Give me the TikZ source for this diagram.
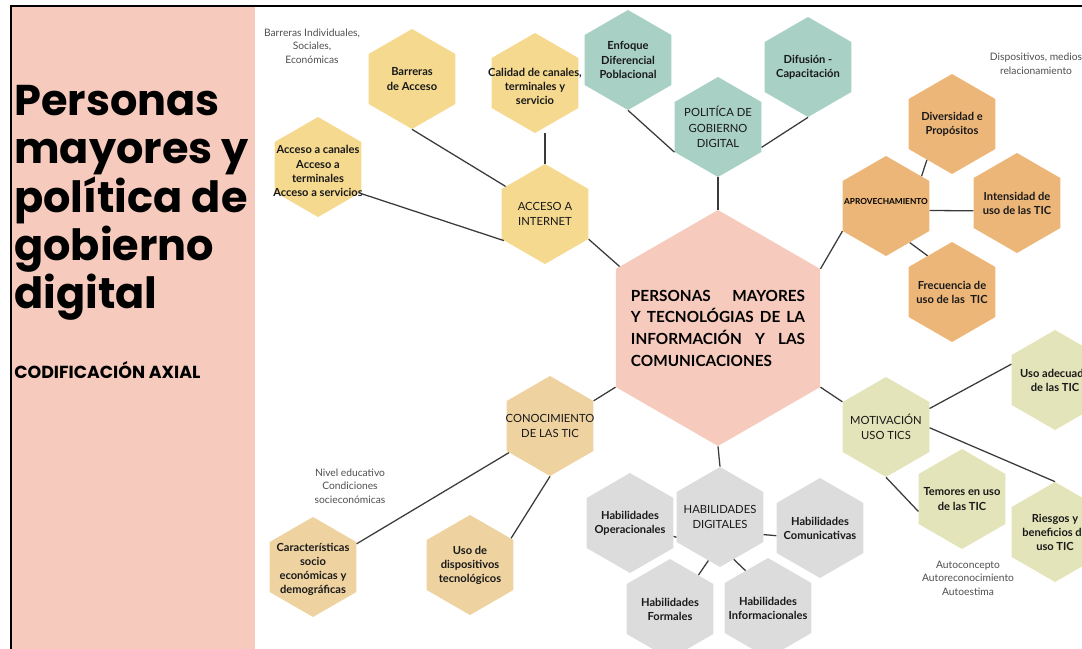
\documentclass[tikz,border=0pt]{standalone}
\usepackage{fontspec}
\setmainfont{Lato}
\newfontfamily\titlefont{Poppins}
\usetikzlibrary{shapes.geometric}

\definecolor{panelpink}{HTML}{F6CBBD}
\definecolor{hexyellow}{HTML}{F4D98E}
\definecolor{hexteal}{HTML}{A8D0C4}
\definecolor{hexorange}{HTML}{EDB679}
\definecolor{hexgreen}{HTML}{E3E4B9}
\definecolor{hexgray}{HTML}{DCDCDC}
\definecolor{hextan}{HTML}{EED3A1}
\definecolor{notegray}{HTML}{4E4E4E}
\definecolor{linkgray}{HTML}{3A3A3A}

\begin{document}
\begin{tikzpicture}[x=0.025cm, y=-0.025cm,
    hexa/.style={regular polygon, regular polygon sides=6, shape border rotate=90,
      minimum size=2.5cm, inner sep=0pt, draw=none},
    yel/.style={hexa, fill=hexyellow},
    teal/.style={hexa, fill=hexteal},
    ora/.style={hexa, fill=hexorange},
    gre/.style={hexa, fill=hexgreen},
    gry/.style={hexa, fill=hexgray},
    tan/.style={hexa, fill=hextan},
    leaf/.style={font=\fontsize{7.9}{10}\selectfont\bfseries, align=center, text=black!90},
    head/.style={font=\fontsize{8}{11}\selectfont, align=center, text=black!90},
    note/.style={font=\fontsize{7.3}{9.7}\selectfont, align=center, text=notegray},
    link/.style={draw=linkgray, line width=0.9pt}]
  \useasboundingbox (0,0) rectangle (1082,649);
  \clip (0,0) rectangle (1082,649);

  % left panel
  \fill[panelpink] (12,7) rectangle (255,649);
  \draw[line width=1.1pt] (11,649) -- (11,6) -- (1082,6);
  \node[anchor=north west, inner sep=0pt, align=left,
    font=\titlefont\fontsize{30.6}{34.4}\selectfont\bfseries] (title) at (14,85)
    {Personas\\mayores y\\política de\\gobierno\\digital};
  \node[anchor=base west, inner sep=0pt,
    font=\titlefont\fontsize{12.4}{14}\selectfont\bfseries] (sub) at (14,378)
    {CODIFICACIÓN AXIAL};

  % centre
  \node[hexa, minimum size=5.9cm, fill=panelpink,
    label={[align=left, font=\fontsize{10.9}{15.4}\selectfont\bfseries]center:{%
      \makebox[4.35cm][s]{PERSONAS MAYORES}\\
      \makebox[4.35cm][s]{Y TECNOLÓGIAS DE LA}\\
      \makebox[4.35cm][s]{INFORMACIÓN Y LAS}\\
      \makebox[4.35cm][l]{COMUNICACIONES}}}] (cen) at (718,328) {};

  \path
    (545,214) node[yel, label={[head]center:{ACCESO A\\INTERNET}}] (acc) {}
    (412,79) node[yel, label={[leaf]center:{Barreras\\de Acceso}}] (bar) {}
    (535,83) node[yel, label={[leaf, yshift=-0.08cm]center:{Calidad de canales,\\terminales y\\servicio}}] (cal) {}
    (318,167) node[yel, label={[leaf, yshift=-0.1cm]center:{Acceso a canales\\Acceso a\\terminales\\Acceso a servicios}}] (can) {}
    (718,127) node[teal, label={[head]center:{POLITÍCA DE\\GOBIERNO\\DIGITAL}}] (pol) {}
    (628,60) node[teal, label={[leaf]center:{Enfoque\\Diferencial\\Poblacional}}] (enf) {}
    (808,67) node[teal, label={[leaf]center:{Difusión -\\Capacitación}}] (dif) {}
    (886,206) node[ora, label={[yshift=0.1cm, font=\fontsize{5.9}{7}\selectfont\bfseries]center:APROVECHAMIENTO}] (apr) {}
    (952,124) node[ora, label={[leaf]center:{Diversidad e\\Propósitos}}] (div) {}
    (1017,203) node[ora, label={[leaf]center:{Intensidad de\\uso de las TIC}}] (int) {}
    (952,292) node[ora, label={[leaf]center:{Frecuencia de\\uso de las\ \ TIC}}] (fre) {}
    (886,427) node[gre, label={[head]center:{MOTIVACIÓN\\USO TICS}}] (mot) {}
    (1055,380) node[gre, label={[leaf]center:{Uso adecuado\\de las TIC}}] (uso) {}
    (962,499) node[gre, label={[leaf]center:{Temores en uso\\de las TIC}}] (tem) {}
    (1055,532) node[gre, label={[leaf]center:{Riesgos y\\beneficios de\\uso TIC}}] (rie) {}
    (720,517) node[gry, label={[head]center:{HABILIDADES\\DIGITALES}}] (hd) {}
    (630,523) node[gry, label={[leaf]center:{Habilidades\\Operacionales}}] (ope) {}
    (820,528) node[gry, label={[leaf]center:{Habilidades\\Comunicativas}}] (com) {}
    (670,609) node[gry, label={[leaf]center:{Habilidades\\Formales}}] (for) {}
    (768,608) node[gry, label={[leaf]center:{Habilidades\\Informacionales}}] (inf) {}
    (550,426) node[tan, label={[head]center:{CONOCIMIENTO\\DE LAS TIC}}] (con) {}
    (313,567) node[tan, label={[leaf, yshift=-0.05cm]center:{Características\\socio\\económicas y\\demográficas}}] (car) {}
    (470,565) node[tan, label={[leaf]center:{Uso de\\dispositivos\\tecnológicos}}] (dis) {};

  % notes
  \path
    (312,46) node[note] (n1) {Barreras Individuales,\\Sociales,\\Económicas}
    (1036,64) node[note] (n2) {Dispositivos, medios\\relacionamiento}
    (350,486) node[note] (n3) {Nivel educativo\\Condiciones\\socieconómicas}
    (968,578) node[note] (n4) {Autoconcepto\\Autoreconocimiento\\Autoestima};

  \begin{scope}[link]
    \draw (bar.south) -- (acc.145);
    \draw (can.-32) -- (acc.-147);
    \draw (acc.north |- cal.south) -- (acc.north);
    \draw (acc.-30) -- (cen.148);
    \draw (enf.south) -- (pol.210);
    \draw (dif.south) -- (pol.-25);
    \draw (pol.south) -- (cen.north);
    \draw (cen.30) -- (apr.-150);
    \draw (apr.40) -- (div.-125);
    \draw (apr.-6) -- (int.190);
    \draw (apr.-57) -- (fre.124);
    \draw (cen.-30) -- (mot.150);
    \draw (mot.23) -- (uso.160);
    \draw (mot.-1) -- (rie.north);
    \draw (mot.south) -- (tem.196);
    \draw (cen.south) -- (hd.north);
    \draw (hd.-22) -- (com.190);
    \draw (ope.-17) -- (hd.205);
    \draw (hd.-105) -- (for.50);
    \draw (hd.-72) -- (inf.121);
    \draw (cen.210) -- (con.30);
    \draw (con.-147) -- (car.28);
    \draw (con.south) -- (dis.33);
  \end{scope}
\end{tikzpicture}
\end{document}
